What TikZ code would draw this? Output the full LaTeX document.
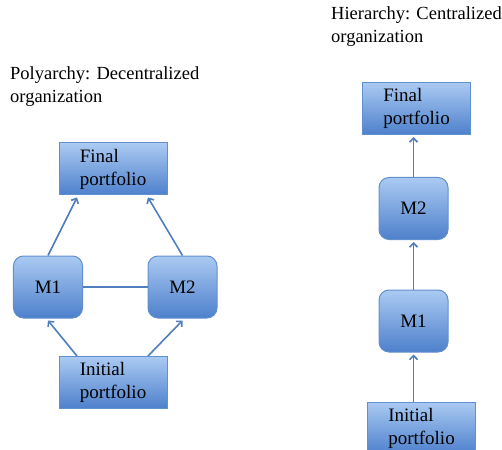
\documentclass[tikz,border=0pt]{standalone}
\usepackage{fontspec}
\setmainfont{Liberation Serif}
\usetikzlibrary{positioning}
\usetikzlibrary{arrows.meta}

\definecolor{boxtop}{RGB}{170,202,242}
\definecolor{boxbot}{RGB}{78,128,204}
\definecolor{boxline}{RGB}{98,144,206}
\definecolor{linkcol}{RGB}{80,126,190}

\tikzset{
	portbox/.style={draw=boxline, line width=1bp, top color=boxtop, bottom color=boxbot, inner sep=0pt,
		minimum width=108bp, minimum height=52bp, align=left, font=\fontsize{19bp}{23bp}\selectfont},
	mbox/.style={portbox, rounded corners=10bp, minimum width=69bp, minimum height=62bp},
	title/.style={anchor=north west, inner sep=0pt, align=left, font=\fontsize{18.5bp}{23bp}\selectfont},
	link/.style={draw=linkcol, line width=1.6bp},
	arr/.style={link, -{Straight Barb[length=4bp,width=8bp]}}
}

\begin{document}
\begin{tikzpicture}[x=1bp, y=-1bp]
	\useasboundingbox (0,0) rectangle (502,450);
	\clip (0,0) rectangle (502,450);

	% Polyarchy %
	\node [title] (polytitle) at (10,66) {Polyarchy: Decentralized\\organization};
	\node [portbox] (finalL) at (113,169) {Final\\portfolio};
	\node [mbox] (mone) at (48,287) {M1};
	\node [mbox] (mtwo) at (182.5,287) {M2};
	\node [portbox] (initL) at (113,382.5) {Initial\\portfolio};
	\draw [arr] (mone.north) -- ([xshift=-36bp, yshift=-2bp]finalL.south);
	\draw [arr] (mtwo.north) -- ([xshift=35bp, yshift=-2bp]finalL.south);
	\draw [arr] ([xshift=-36bp]initL.north) -- ([yshift=-2bp]mone.south);
	\draw [arr] ([xshift=35bp]initL.north) -- ([yshift=-2bp]mtwo.south);
	\draw [link] (mone.east) -- (mtwo.west);

	% Hierarchy %
	\node [title] (hiertitle) at (331,6) {Hierarchy: Centralized\\organization};
	\node [portbox] (finalR) at (416.5,108.5) {Final\\portfolio};
	\node [mbox] (mtwoR) at (413.5,208.5) {M2};
	\node [mbox] (moneR) at (413.5,321) {M1};
	\node [portbox] (initR) at (421.5,428) {Initial\\portfolio};
	\draw [arr] (mtwoR.north) -- ([yshift=-2bp]mtwoR.north |- finalR.south);
	\draw [arr] (moneR.north) -- ([yshift=-2bp]mtwoR.south);
	\draw [arr] (moneR.south |- initR.north) -- ([yshift=-2bp]moneR.south);
\end{tikzpicture}
\end{document}
